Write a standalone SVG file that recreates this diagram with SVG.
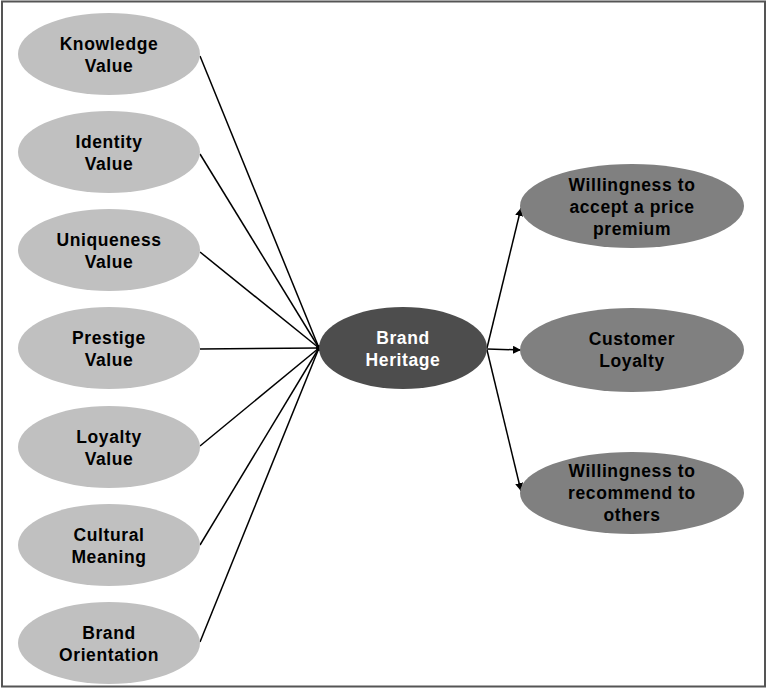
<svg xmlns="http://www.w3.org/2000/svg" width="768" height="690" viewBox="0 0 768 690">
<style>
text{font-family:"Liberation Sans",Arial,sans-serif;font-weight:bold;font-size:17.5px;letter-spacing:0.6px;text-anchor:middle}
.l{fill:#c0c0c0}
.r{fill:#808080}
.c{fill:#4d4d4d}
.w{fill:#ffffff}
.k{fill:#000000}
.cn{stroke:#000;stroke-width:1.5;fill:none}
</style>
<defs>
<marker id="ah" viewBox="0 0 10 10" refX="10" refY="5" markerWidth="8" markerHeight="8" markerUnits="userSpaceOnUse" orient="auto">
<path d="M0,0 L10,5 L0,10 z" fill="#000"/>
</marker>
</defs>
<rect x="0" y="0" width="768" height="690" fill="#fff"/>
<rect x="2" y="1.5" width="763" height="685" fill="none" stroke="#555" stroke-width="2"/>
<g id="connectors">
<line class="cn" x1="200" y1="56" x2="319" y2="348"/>
<line class="cn" x1="200" y1="154" x2="319" y2="348"/>
<line class="cn" x1="200" y1="252" x2="319" y2="348"/>
<line class="cn" x1="200" y1="349" x2="319" y2="348"/>
<line class="cn" x1="200" y1="446" x2="319" y2="348"/>
<line class="cn" x1="200" y1="545" x2="319" y2="348"/>
<line class="cn" x1="200" y1="642" x2="319" y2="348"/>
<circle cx="319" cy="348" r="3" fill="#000"/>
<line class="cn" x1="487" y1="348" x2="521" y2="208" marker-end="url(#ah)"/>
<line class="cn" x1="487" y1="349" x2="521" y2="350" marker-end="url(#ah)"/>
<line class="cn" x1="487" y1="350" x2="521" y2="491" marker-end="url(#ah)"/>
</g>
<g id="knowledge"><ellipse class="l" cx="109" cy="54" rx="91" ry="41"/><text x="109" y="50" class="k">Knowledge</text><text x="109" y="72" class="k">Value</text></g>
<g id="identity"><ellipse class="l" cx="109" cy="152" rx="91" ry="41"/><text x="109" y="148" class="k">Identity</text><text x="109" y="170" class="k">Value</text></g>
<g id="uniqueness"><ellipse class="l" cx="109" cy="250" rx="91" ry="41"/><text x="109" y="246" class="k">Uniqueness</text><text x="109" y="268" class="k">Value</text></g>
<g id="prestige"><ellipse class="l" cx="109" cy="348" rx="91" ry="41"/><text x="109" y="344" class="k">Prestige</text><text x="109" y="366" class="k">Value</text></g>
<g id="loyalty"><ellipse class="l" cx="109" cy="447" rx="91" ry="41"/><text x="109" y="443" class="k">Loyalty</text><text x="109" y="465" class="k">Value</text></g>
<g id="cultural"><ellipse class="l" cx="109" cy="545" rx="91" ry="41"/><text x="109" y="541" class="k">Cultural</text><text x="109" y="563" class="k">Meaning</text></g>
<g id="orientation"><ellipse class="l" cx="109" cy="643" rx="91" ry="41"/><text x="109" y="639" class="k">Brand</text><text x="109" y="661" class="k">Orientation</text></g>
<g id="heritage"><ellipse class="c" cx="403" cy="348" rx="84" ry="41"/><text x="403" y="344" class="w">Brand</text><text x="403" y="366" class="w">Heritage</text></g>
<g id="premium"><ellipse class="r" cx="632" cy="206" rx="112" ry="42"/><text x="632" y="191" class="k">Willingness to</text><text x="632" y="213" class="k">accept a price</text><text x="632" y="235" class="k">premium</text></g>
<g id="custloyalty"><ellipse class="r" cx="632" cy="350" rx="112" ry="42"/><text x="632" y="345" class="k">Customer</text><text x="632" y="367" class="k">Loyalty</text></g>
<g id="recommend"><ellipse class="r" cx="632" cy="493" rx="112" ry="41"/><text x="632" y="477" class="k">Willingness to</text><text x="632" y="499" class="k">recommend to</text><text x="632" y="521" class="k">others</text></g>
</svg>
